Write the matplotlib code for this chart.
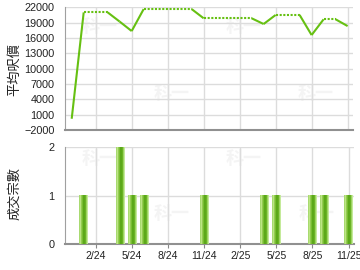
import numpy as np
import matplotlib
matplotlib.use("Agg")
import matplotlib.pyplot as plt
from matplotlib.colors import ListedColormap

plt.rcParams['font.family'] = ['Liberation Sans', 'Noto Sans CJK TC']

# 平均呎價 (有成交的月份)
price_months = ['2023-12', '2024-01', '2024-04', '2024-05', '2024-06', '2024-11',
                '2025-04', '2025-05', '2025-08', '2025-09', '2025-11']
price_values = [200, 21000, 19200, 17350, 21650, 19850, 18730, 20500, 16570, 19650, 18330]

# 成交宗數
deal_months = ['2024-01', '2024-04', '2024-05', '2024-06', '2024-11',
               '2025-04', '2025-05', '2025-08', '2025-09', '2025-11']
deal_counts = [1, 2, 1, 1, 1, 1, 1, 1, 1, 1]

tick_months = ['2024-02', '2024-05', '2024-08', '2024-11',
               '2025-02', '2025-05', '2025-08', '2025-11']
tick_labels = ['2/24', '5/24', '8/24', '11/24', '2/25', '5/25', '8/25', '11/25']

price_ticks = list(range(-2000, 22001, 3000))


def month_idx(s):
    y, m = s.split('-')
    return (int(y) - 2024) * 12 + int(m) - 1


pm = [month_idx(s) for s in price_months]
dm = [month_idx(s) for s in deal_months]
tm = [month_idx(s) for s in tick_months]

line_c = '#66c012'
grid_c = '#dcdcdc'
xlim = (-1.6, 22.45)

fig = plt.figure(figsize=(3.6, 2.7), dpi=100)
ax1 = fig.add_axes([64.5 / 360, 1 - 130 / 270, 288.5 / 360, 122.7 / 270])
ax2 = fig.add_axes([64.5 / 360, 1 - 244 / 270, 289.5 / 360, 96.7 / 270])

# 水印
for ax, pos in [(ax1, [(0.12, 0.84), (0.37, 0.30), (0.62, 0.84), (0.87, 0.30)]),
                (ax2, [(0.12, 0.88), (0.37, 0.32), (0.62, 0.88), (0.87, 0.32)])]:
    for x, y in pos:
        ax.text(x, y, '科一', transform=ax.transAxes, fontsize=13, fontweight='bold',
                color='#f4f4f4', ha='center', va='center', zorder=0,
                family=['Noto Sans CJK TC'])

# 折線：缺月份用點線延續
for i in range(len(pm) - 1):
    m0, m1 = pm[i], pm[i + 1]
    v0, v1 = price_values[i], price_values[i + 1]
    if m1 - m0 > 1:
        ax1.plot([m0, m1 - 1], [v0, v0], color=line_c, lw=1.5,
                 linestyle=(0, (1, 0.75)), dash_capstyle='butt', zorder=3)
        ax1.plot([m1 - 1, m1], [v0, v1], color=line_c, lw=1.5, zorder=3,
                 solid_capstyle='butt')
    else:
        ax1.plot([m0, m1], [v0, v1], color=line_c, lw=1.5, zorder=3,
                 solid_capstyle='butt')

ax1.set_ylim(-2000, 22000)
ax1.set_yticks(price_ticks)
ax1.set_xlim(*xlim)
ax1.set_xticks(tm)
ax1.set_xticklabels([])
ax1.tick_params(axis='both', length=0, labelsize=7.8, pad=7, colors='#222222')

# 柱：漸變綠色
grad = ListedColormap(['#a8da70', '#bce584', '#94cc52', '#78bd32', '#5ca81a',
                       '#6ab424', '#9cd262', '#c4ea9a'])
bw = 0.72
for m, c in zip(dm, deal_counts):
    ax2.imshow(np.linspace(0, 1, 8).reshape(1, -1), cmap=grad, aspect='auto',
               extent=[m - bw / 2, m + bw / 2, 0, c], zorder=3,
               interpolation='nearest')

ax2.set_ylim(0, 2)
ax2.set_yticks([0, 1, 2])
ax2.set_xlim(*xlim)
ax2.set_xticks(tm)
ax2.set_xticklabels(tick_labels)
ax2.tick_params(axis='y', length=0, labelsize=7.8, pad=7, colors='#222222')
ax2.tick_params(axis='x', length=3, width=0.8, color='#888888', labelsize=7.5,
                pad=2, labelcolor='#222222')

for ax in (ax1, ax2):
    ax.grid(True, color=grid_c, lw=1.0, zorder=1)
    ax.set_axisbelow(True)
    ax.spines['top'].set_visible(False)
    ax.spines['right'].set_visible(False)
    ax.spines['left'].set_color('#a0a0a0')
    ax.spines['left'].set_linewidth(0.8)
    ax.spines['bottom'].set_color('#909090')
    ax.spines['bottom'].set_linewidth(1.5)
    ax.patch.set_alpha(0)

fig.text(15 / 360, 1 - 70 / 270, '平均呎價', rotation=90, ha='center', va='center',
         fontsize=9.5, color='#222222')
fig.text(15 / 360, 1 - 193 / 270, '成交宗數', rotation=90, ha='center', va='center',
         fontsize=9.5, color='#222222')

fig.savefig('out.png', dpi=100)
